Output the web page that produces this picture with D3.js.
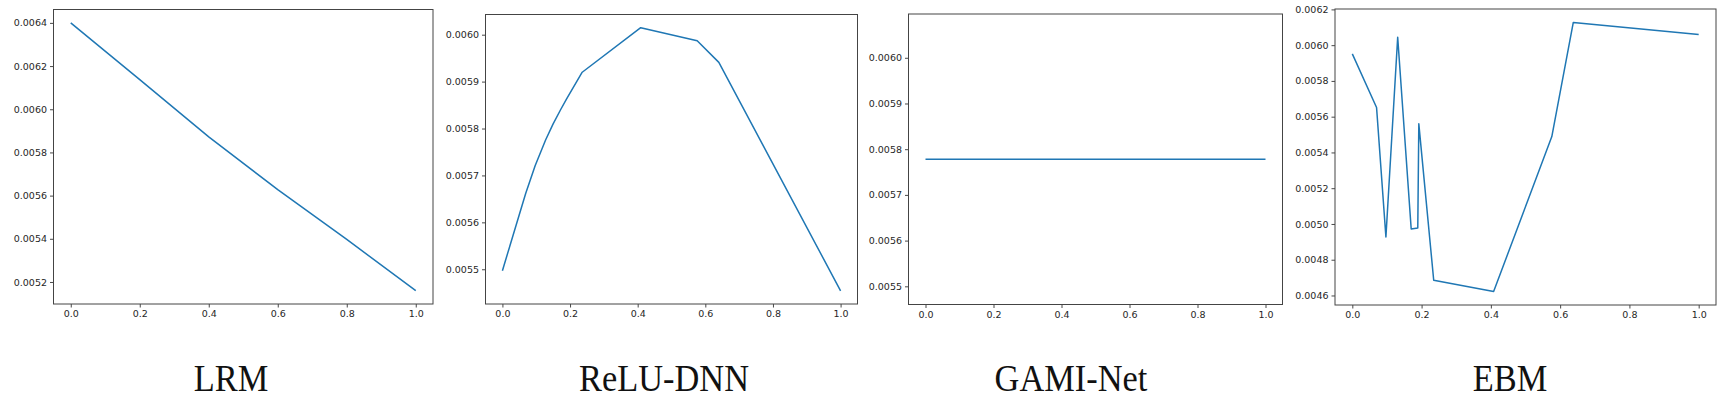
<!DOCTYPE html>
<html>
<head>
<meta charset="utf-8">
<script src="https://cdn.jsdelivr.net/npm/d3@7"></script>
<style>
  html, body { margin: 0; padding: 0; background: #fff; }
  svg { display: block; }
</style>
</head>
<body>
<svg id="chart" width="1723" height="398"></svg>
<script>
// ---------- data ----------
const titles = ["LRM", "ReLU-DNN", "GAMI-Net", "EBM"];

const xTicks = [0, 0.2, 0.4, 0.6, 0.8, 1.0];

const lrmX = [0, 0.2, 0.4, 0.6, 0.8, 1.0];
const lrmY = [0.00640, 0.006137, 0.005872, 0.005628, 0.005397, 0.005160];

const dnnX = [0, 0.069, 0.097, 0.128, 0.150, 0.172, 0.189, 0.192, 0.236, 0.409, 0.576, 0.640, 1.0];
const dnnY = [0.005497, 0.005662, 0.005721, 0.005776, 0.005810, 0.005840, 0.005862, 0.005866, 0.005920, 0.006015, 0.005987, 0.005941, 0.005454];

const gamiX = [0, 1.0];
const gamiY = [0.005778, 0.005778];

const ebmX = [0, 0.070, 0.097, 0.131, 0.170, 0.189, 0.192, 0.235, 0.408, 0.576, 0.638, 1.0];
const ebmY = [0.005951, 0.005651, 0.004927, 0.006044, 0.004972, 0.004978, 0.005560, 0.004685, 0.004622, 0.005489, 0.006127, 0.006060];

const lrmTicks  = [0.0052, 0.0054, 0.0056, 0.0058, 0.0060, 0.0062, 0.0064];
const dnnTicks  = [0.0055, 0.0056, 0.0057, 0.0058, 0.0059, 0.0060];
const gamiTicks = [0.0055, 0.0056, 0.0057, 0.0058, 0.0059, 0.0060];
const ebmTicks  = [0.0046, 0.0048, 0.0050, 0.0052, 0.0054, 0.0056, 0.0058, 0.0060, 0.0062];

// ---------- layout ----------
const panels = [
  { title: titles[0], xs: lrmX,  ys: lrmY,  ticks: lrmTicks,  left: 53.5,  right: 433,   top: 9.5,  bottom: 304, tx: 231 },
  { title: titles[1], xs: dnnX,  ys: dnnY,  ticks: dnnTicks,  left: 485.5, right: 857.5, top: 14.5, bottom: 304, tx: 664 },
  { title: titles[2], xs: gamiX, ys: gamiY, ticks: gamiTicks, left: 908.5, right: 1282.5,top: 14,   bottom: 304.5, tx: 1071 },
  { title: titles[3], xs: ebmX,  ys: ebmY,  ticks: ebmTicks,  left: 1335,  right: 1716,  top: 9,    bottom: 305, tx: 1510 }
];

const svg = d3.select("#chart");
const tickFont = "DejaVu Sans, sans-serif";

function yDomain(ys) {
  let lo = d3.min(ys), hi = d3.max(ys);
  if (lo === hi) { const e = Math.abs(lo) * 0.05; lo -= e; hi += e; }
  const m = (hi - lo) * 0.05;
  return [lo - m, hi + m];
}

panels.forEach(p => {
  const x = d3.scaleLinear().domain([-0.05, 1.05]).range([p.left, p.right]);
  const y = d3.scaleLinear().domain(yDomain(p.ys)).range([p.bottom, p.top]);

  const g = svg.append("g");

  // data line
  const pts = p.xs.map((v, i) => [v, p.ys[i]]);
  g.append("path")
    .datum(pts)
    .attr("fill", "none")
    .attr("stroke", "#1f77b4")
    .attr("stroke-width", 1.5)
    .attr("stroke-linejoin", "round")
    .attr("d", d3.line().x(d => x(d[0])).y(d => y(d[1])));

  // axes
  const xAxis = d3.axisBottom(x).tickValues(xTicks).tickFormat(d3.format(".1f")).tickSize(3.5).tickPadding(3);
  const yAxis = d3.axisLeft(y).tickValues(p.ticks).tickFormat(d3.format(".4f")).tickSize(3.5).tickPadding(3);

  const gx = g.append("g").attr("transform", `translate(0,${p.bottom})`).call(xAxis);
  const gy = g.append("g").attr("transform", `translate(${p.left},0)`).call(yAxis);
  [gx, gy].forEach(a => {
    a.select(".domain").remove();
    a.selectAll(".tick line").attr("stroke", "#333").attr("stroke-width", 0.9);
    a.selectAll(".tick text").attr("fill", "#262626").style("font-family", tickFont).style("font-size", "9.5px");
  });

  // frame
  g.append("rect")
    .attr("x", p.left).attr("y", p.top)
    .attr("width", p.right - p.left).attr("height", p.bottom - p.top)
    .attr("fill", "none").attr("stroke", "#444").attr("stroke-width", 1);

  // title (slightly condensed like the reference)
  svg.append("g")
    .attr("transform", `translate(${p.tx},390.5) scale(0.93,1)`)
    .append("text")
    .attr("x", 0).attr("y", 0)
    .attr("text-anchor", "middle")
    .style("font-family", "Liberation Serif, Times New Roman, serif")
    .style("font-size", "37px")
    .attr("fill", "#111")
    .text(p.title);
});
</script>
</body>
</html>
